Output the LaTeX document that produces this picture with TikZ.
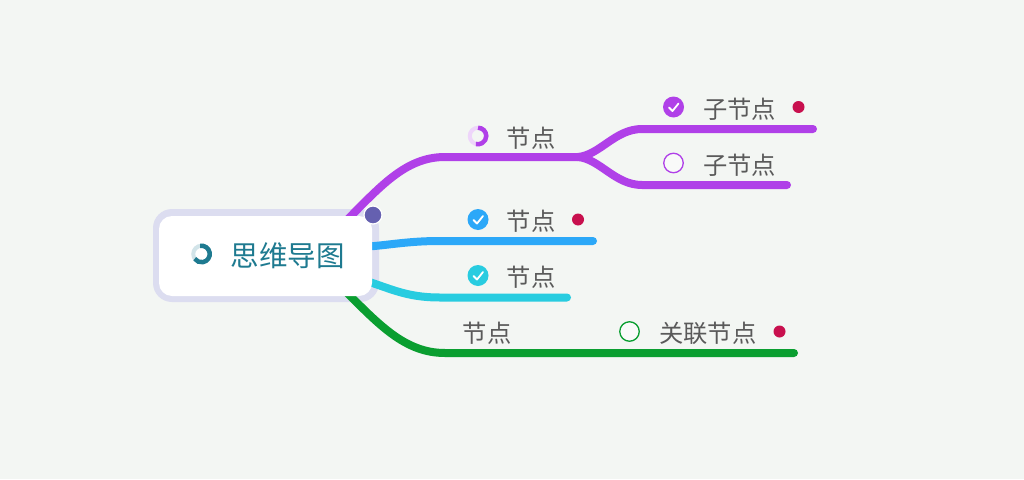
\documentclass[tikz,border=0pt]{standalone}
\usepackage{fontspec}
\setmainfont{Noto Sans CJK SC}
\definecolor{bgc}{HTML}{F3F6F3}
\definecolor{rootb}{HTML}{DCDDF0}
\definecolor{purp}{HTML}{B040E8}
\definecolor{blu}{HTML}{2CA8F8}
\definecolor{cya}{HTML}{28CCE0}
\definecolor{gre}{HTML}{0A9E30}
\definecolor{txt}{HTML}{5A5A5A}
\definecolor{teal2}{HTML}{1E7A90}
\definecolor{crim}{HTML}{C8104E}
\definecolor{halo}{HTML}{6560B0}
\tikzset{
  x=1pt,y=-1pt,
  branch/.style={line width=8pt,line cap=round,draw=#1},
  lab/.style={text=txt,font=\fontsize{24.3}{28}\selectfont,inner sep=0pt},
  flag/.style={circle,fill=crim,minimum size=12pt,inner sep=0pt},
  donec/.style={circle,fill=#1,minimum size=21pt,inner sep=0pt},
  openc/.style={circle,draw=#1,line width=1.3pt,fill=white,fill opacity=0.5,minimum size=19.5pt,inner sep=0pt},
  tick/.style={draw=white,line width=1.8pt,line cap=round,line join=round},
  ringc/.style={circle,draw=#1,line width=4pt,minimum size=16.5pt,inner sep=0pt},
}
\newcommand{\tickon}[1]{\draw[tick] ([shift={(-4.5,0.5)}]#1.center) -- ([shift={(-1,4)}]#1.center) -- ([shift={(5,-3.5)}]#1.center);}
\begin{document}
\begin{tikzpicture}
\useasboundingbox (0,0) rectangle (1024,479);
\fill[bgc] (0,0) rectangle (1024,479);
% root border
\node[fill=rootb,rounded corners=19pt,minimum width=226pt,minimum height=93pt,inner sep=0pt] (rootout) at (266,255.5) {};
% connector coordinates
\coordinate (pstart) at (342,225);
\coordinate (pmid) at (445,157);
\coordinate (pfork) at (578,157);
\coordinate (c1a) at (642,129);
\coordinate (c1e) at (813,129);
\coordinate (c2a) at (642,185);
\coordinate (c2e) at (787,185);
\coordinate (bstart) at (360,247);
\coordinate (bmid) at (440,241);
\coordinate (be) at (593,241);
\coordinate (cstart) at (360,279);
\coordinate (cmid) at (440,297.5);
\coordinate (ce) at (567,297.5);
\coordinate (gstart) at (341,286.5);
\coordinate (gmid) at (445,353);
\coordinate (ge) at (794,353);
% connectors
\draw[branch=purp] (pstart) .. controls (380,187) and (405,157) .. (pmid) -- (pfork);
\draw[branch=purp] (pfork) .. controls (600,155) and (615,129) .. (c1a) -- (c1e);
\draw[branch=purp] (pfork) .. controls (600,159) and (615,185) .. (c2a) -- (c2e);
\draw[branch=blu] (bstart) .. controls (385,246) and (405,241) .. (bmid) -- (be);
\draw[branch=cya] (cstart) .. controls (390,288) and (405,297.5) .. (cmid) -- (ce);
\draw[branch=gre] (gstart) .. controls (379,325) and (405,353) .. (gmid) -- (ge);
% root
\node[fill=white,rounded corners=13pt,minimum width=213pt,minimum height=80pt,inner sep=0pt] (root) at (265.5,256) {};
\node[text=teal2,font=\fontsize{28.5}{32}\selectfont,inner sep=0pt] (roott) at (287.5,256) {思维导图};
\node[circle,fill=halo,draw=white,line width=1.2pt,minimum size=18pt,inner sep=0pt] (rootdot) at (373,215) {};
% root progress
\node[ringc=teal2!20] (rprog) at (201.5,254) {};
\draw[teal2,line width=4.5pt] (rprog.center) ++(100:8.25pt) arc[start angle=100,end angle=-145,radius=8.25pt];
% purple branch
\node[ringc=purp!22] (pprog) at (478,136) {};
\draw[purp,line width=4.5pt] (pprog.center) ++(90:8.25pt) arc[start angle=90,end angle=-105,radius=8.25pt];
\node[lab] (n1) at (531,138.5) {节点};
\node[donec=purp] (k1) at (673.5,107) {}; \tickon{k1}
\node[lab] (s1) at (739.8,109.5) {子节点};
\node[flag] (f1) at (798.5,107) {};
\node[openc=purp] (o1) at (673.5,163) {};
\node[lab] (s2) at (739.8,165.5) {子节点};
% blue
\node[donec=blu] (k2) at (478,219.5) {}; \tickon{k2}
\node[lab] (n2) at (531,221.5) {节点};
\node[flag] (f2) at (578,219.5) {};
% cyan
\node[donec=cya] (k3) at (478,275.5) {}; \tickon{k3}
\node[lab] (n3) at (531,277.5) {节点};
% green
\node[lab] (n4) at (487,333.5) {节点};
\node[openc=gre] (o2) at (629.5,331.5) {};
\node[lab] (n5) at (707.8,333.5) {关联节点};
\node[flag] (f3) at (779.5,331.5) {};
\end{tikzpicture}
\end{document}
